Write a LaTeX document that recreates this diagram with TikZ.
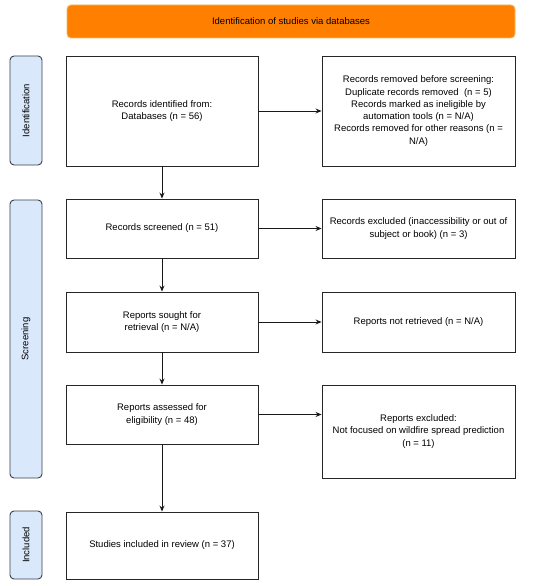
\documentclass[tikz,border=0pt]{standalone}
\usepackage{fontspec}
\setmainfont{Liberation Sans}
\usetikzlibrary{arrows.meta,calc}
\definecolor{bannerfill}{HTML}{FF8000}
\definecolor{bannerdraw}{HTML}{F2B866}
\definecolor{sidefill}{HTML}{DAE8FC}
\definecolor{sidedraw}{HTML}{3A3F47}
\begin{document}
\begin{tikzpicture}[x=1pt,y=-1pt,
  every node/.style={font=\fontsize{9.5}{12.3}\selectfont, align=center, inner sep=2pt},
  box/.style={draw=black!85, line width=0.9pt, rectangle, minimum width=192pt},
  banner/.style={draw=bannerdraw, fill=bannerfill, line width=0.9pt, rounded corners=4pt, minimum width=448pt, minimum height=33pt},
  side/.style={draw=sidedraw, fill=sidefill, line width=0.9pt, rounded corners=4pt, minimum height=32pt, rotate=90},
  arr/.style={-{Stealth[length=6pt,width=5pt]}, line width=0.9pt, black!90}
]
\useasboundingbox (0,0) rectangle (550,586);
\node[banner] (ban) at (291,21.5) {Identification of studies via databases};

\node[side, minimum width=109pt] (sid) at (26,110.5) {Identification};
\node[side, minimum width=278pt] (sscr) at (26,339) {Screening};
\node[side, minimum width=68pt] (sinc) at (26,545) {Included};

\node[box, minimum height=110pt] (b1) at (162,111) {Records identified from:\\Databases (n = 56)};
\node[box, minimum height=110pt, minimum width=193pt] (r1) at (418.5,111) {Records removed before screening:\\Duplicate records removed~ (n = 5)\\Records marked as ineligible by\\automation tools (n = N/A)\\Records removed for other reasons (n =\\N/A)};

\node[box, minimum height=59pt] (b2) at (162,228.5) {Records screened (n = 51)};
\node[box, minimum height=59pt, minimum width=193pt] (r2) at (418.5,228.5) {Records excluded (inaccessibility or out of\\subject or book) (n = 3)};

\node[box, minimum height=60pt] (b3) at (162,322) {Reports sought for\\retrieval (n = N/A)};
\node[box, minimum height=60pt, minimum width=193pt] (r3) at (418.5,322) {Reports not retrieved (n = N/A)};

\node[box, minimum height=59pt] (b4) at (162,414.5) {Reports assessed for\\eligibility (n = 48)};
\node[box, minimum height=93pt, minimum width=193pt] (r4) at (418.5,431.5) {Reports excluded:\\Not focused on wildfire spread prediction\\(n = 11)};

\node[box, minimum height=67pt] (b5) at (162,545.5) {Studies included in review (n = 37)};

\draw[arr] (b1) -- (b2);
\draw[arr] (b2) -- (b3);
\draw[arr] (b3) -- (b4);
\draw[arr] (b4) -- (b5);
\draw[arr] (b1.east) -- (b1.east -| r1.west);
\draw[arr] (b2.east) -- (b2.east -| r2.west);
\draw[arr] (b3.east) -- (b3.east -| r3.west);
\draw[arr] (b4.east) -- (b4.east -| r4.west);
\end{tikzpicture}
\end{document}
